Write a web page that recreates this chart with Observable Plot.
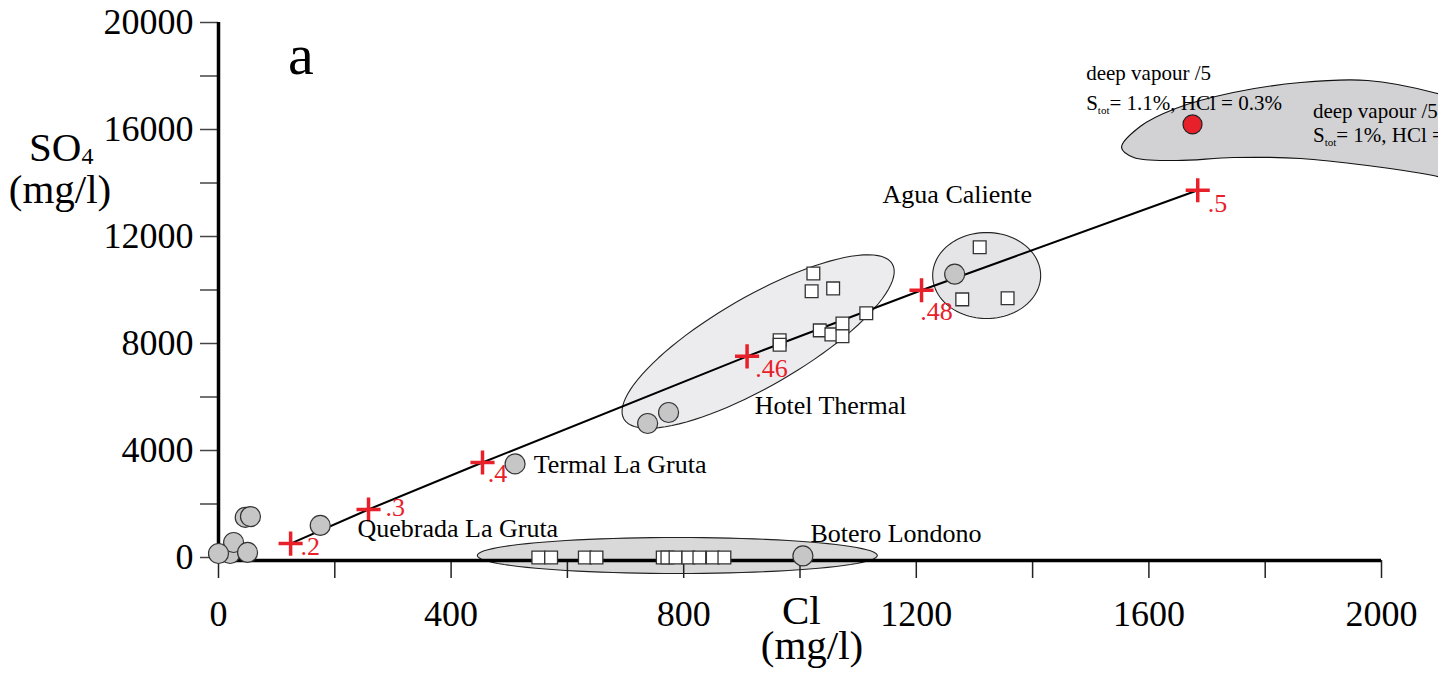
<!DOCTYPE html>
<html><head><meta charset="utf-8">
<script src="https://cdn.jsdelivr.net/npm/d3@7"></script>
<script src="https://cdn.jsdelivr.net/npm/@observablehq/plot@0.6"></script>
<style>body{margin:0;background:#fff} svg{display:block}</style>
</head><body><div id="chart"></div>
<script>
// ---------- data ----------
// grey circles (spring samples)
const circleCl  = [20, 26, 0, 50, 46, 55, 175, 510, 738, 774, 1266, 1005];
const circleSO4 = [150, 560, 150, 190, 1500, 1530, 1200, 3500, 5010, 5420, 10590, 60];
// white squares (spring samples)
const squareCl  = [1023, 1020, 1057, 965, 965, 1034, 1054, 1073, 1073, 1114, 1309, 1279, 1357,
                   550, 572, 630, 650, 764, 772, 786, 808, 827, 850, 870];
const squareSO4 = [10620, 9950, 10060, 8120, 7950, 8490, 8340, 8750, 8270, 9130, 11600, 9650, 9690,
                   0, 0, 0, 0, 0, 0, 0, 0, 0, 0, 0];
// mixing model (red crosses + line)
const mixFraction = [".2", ".3", ".4", ".46", ".48", ".5"];
const mixCl  = [124, 258, 454, 909, 1209, 1684];
const mixSO4 = [520, 1795, 3550, 7520, 9990, 13730];
const fracLabelCl  = [141, 287, 463, 923, 1207, 1701];
const fracLabelSO4 = [411, 1860, 3140, 7065, 9195, 13233];
// deep vapour point
const vapourCl = [1675];
const vapourSO4 = [16190];
// deep vapour field outline
const vapFieldCl  = [1553, 1585, 1646, 1745, 1861, 1976, 2089, 2205, 2282, 2205, 2089, 1976, 1861, 1745, 1646, 1574];
const vapFieldSO4 = [15327, 16112, 16785, 17383, 17757, 17832, 17383, 16523, 15028, 13720, 14280, 14654, 14916, 14953, 14841, 14953];
// group fields (ellipses): centre in data units
const fieldName = ["Botero Londono", "Hotel Thermal", "Agua Caliente"];
const fieldCl   = [789, 928, 1321];
const fieldSO4  = [75, 8074, 10541];
// group labels
const groupNames = ["Quebrada La Gruta", "Termal La Gruta", "Hotel Thermal", "Agua Caliente", "Botero Londono"];
const groupCl  = [239, 542, 922, 1142, 1018];
const groupSO4 = [1084, 3476, 5680, 13570, 897];
// ticks
const xTicks = [0, 200, 400, 600, 800, 1000, 1200, 1400, 1600, 1800, 2000];
const xTickLabels = [0, 400, 800, 1200, 1600, 2000];
const yTicks = [0, 2000, 4000, 6000, 8000, 10000, 12000, 14000, 16000, 18000, 20000];
const yTickLabels = [0, 4000, 8000, 12000, 16000, 20000];

// ---------- layout ----------
const W = 1438, H = 679, mL = 218, mR = 57, mT = 22, mB = 122;
const kx = (W - mL - mR) / 2000, ky = (H - mT - mB) / 20000;
const serif = "'Liberation Serif', 'Times New Roman', serif";
const red = "#e8202a";
// ellipse shape styles (pixel semi-axes, rotation)
const fieldShape = [
  {a: 200, b: 18, angle: 0, fill: "#d9d9da"},
  {a: 155, b: 45, angle: 30, fill: "#ececee"},
  {a: 54, b: 43, angle: 0, fill: "#e5e5e7"}
];

const circles = circleCl.map((c, i) => ({Cl: c, SO4: circleSO4[i]}));
const squares = squareCl.map((c, i) => ({Cl: c, SO4: squareSO4[i]}));
const mix = mixCl.map((c, i) => ({Cl: c, SO4: mixSO4[i], f: mixFraction[i], lx: fracLabelCl[i], ly: fracLabelSO4[i]}));
const vapour = vapourCl.map((c, i) => ({Cl: c, SO4: vapourSO4[i]}));
const vapField = vapFieldCl.map((c, i) => ({Cl: c, SO4: vapFieldSO4[i]}));
const groups = groupNames.map((n, i) => ({name: n, Cl: groupCl[i], SO4: groupSO4[i]}));

function ellipse(i) {
  const s = fieldShape[i], th = s.angle * Math.PI / 180, pts = [];
  for (let k = 0; k < 96; k++) {
    const t = 2 * Math.PI * k / 96;
    const dx = s.a * Math.cos(t) * Math.cos(th) - s.b * Math.sin(t) * Math.sin(th);
    const dy = s.a * Math.cos(t) * Math.sin(th) + s.b * Math.sin(t) * Math.cos(th);
    pts.push({Cl: fieldCl[i] + dx / kx, SO4: fieldSO4[i] + dy / ky});
  }
  return pts;
}

const chart = Plot.plot({
  width: W, height: H,
  marginLeft: mL, marginRight: mR, marginTop: mT, marginBottom: mB,
  x: {domain: [0, 2000]},
  y: {domain: [0, 20000]},
  style: {fontFamily: serif, background: "#fff", color: "#000", overflow: "hidden"},
  marks: [
    Plot.line(vapField, {x: "Cl", y: "SO4", curve: "catmull-rom-closed", fill: "#d2d2d4", stroke: "#111", strokeWidth: 1.2}),
    ...fieldName.map((n, i) => Plot.line(ellipse(i), {x: "Cl", y: "SO4", curve: "linear-closed", fill: fieldShape[i].fill, stroke: "#222", strokeWidth: 1.1})),
    Plot.axisY({ticks: yTicks, tickSize: 18, tickPadding: 7, fontSize: 36, stroke: "#444", strokeWidth: 1.5,
      tickFormat: d => yTickLabels.includes(d) ? String(d) : "", label: null}),
    Plot.axisX({ticks: xTicks, tickSize: 18, tickPadding: 22, fontSize: 36, stroke: "#222", strokeWidth: 1.5, dy: 3,
      tickFormat: d => xTickLabels.includes(d) ? String(d) : "", label: null}),
    Plot.ruleX([0], {strokeWidth: 3.5, insetBottom: -4.5}),
    Plot.ruleY([0], {strokeWidth: 3.5, dy: 3, insetLeft: -1.5}),
    Plot.line(mix, {x: "Cl", y: "SO4", stroke: "#000", strokeWidth: 2}),
    Plot.dot(mix, {x: "Cl", y: "SO4", symbol: "plus", r: 7.8, stroke: red, strokeWidth: 3.5}),
    Plot.text(mix, {x: "lx", y: "ly", text: "f", fill: red, fontSize: 26, textAnchor: "start"}),
    Plot.dot(squares, {x: "Cl", y: "SO4", symbol: "square", r: 7.2, fill: "#fff", stroke: "#333", strokeWidth: 1.3}),
    Plot.dot(circles, {x: "Cl", y: "SO4", r: 10, fill: "#c6c6c6", stroke: "#333", strokeWidth: 1.2}),
    Plot.dot(vapour, {x: "Cl", y: "SO4", r: 9.5, fill: red, stroke: "#222", strokeWidth: 1.2}),
    Plot.text(groups, {x: "Cl", y: "SO4", text: "name", fontSize: 26, textAnchor: "start", fill: "#000"})
  ]
});
document.getElementById("chart").appendChild(chart);

// ---------- texts with subscripts, axis titles ----------
const svg = d3.select(chart);
const sx = chart.scale("x"), sy = chart.scale("y");
function addText(x, y, parts, size, anchor = "start") {
  const t = svg.append("text").attr("x", x).attr("y", y).attr("font-family", serif)
    .attr("font-size", size).attr("fill", "#000").attr("text-anchor", anchor);
  let shift = 0;
  parts.forEach(p => {
    const sp = t.append("tspan").text(p.t);
    if (p.sub) { sp.attr("font-size", p.sub).attr("dy", p.dy - shift); shift = p.dy; }
    else { sp.attr("dy", -shift); shift = 0; }
  });
  return t;
}
// axis titles
addText(29, 161, [{t: "SO"}, {t: "4", sub: 24, dy: 3}], 41);
addText(60, 203, [{t: "(mg/l)"}], 41, "middle");
addText(782, 624, [{t: "Cl"}], 41);
addText(812, 659, [{t: "(mg/l)"}], 41, "middle");
addText(288, 74, [{t: "a"}], 58);
// deep vapour annotations
const dvCl = [1493, 1883];
const dvSO4a = [17830, 16410];
const dvSO4b = [16710, 15513];
const dvText = ["= 1.1%, HCl = 0.3%", "= 1%, HCl = 0.3%"];
dvCl.forEach((c, i) => {
  addText(sx.apply(c), sy.apply(dvSO4a[i]), [{t: "deep vapour /5"}], 21);
  addText(sx.apply(c), sy.apply(dvSO4b[i]), [{t: "S"}, {t: "tot", sub: 11, dy: 4}, {t: dvText[i]}], 21);
});
</script>
</body></html>
